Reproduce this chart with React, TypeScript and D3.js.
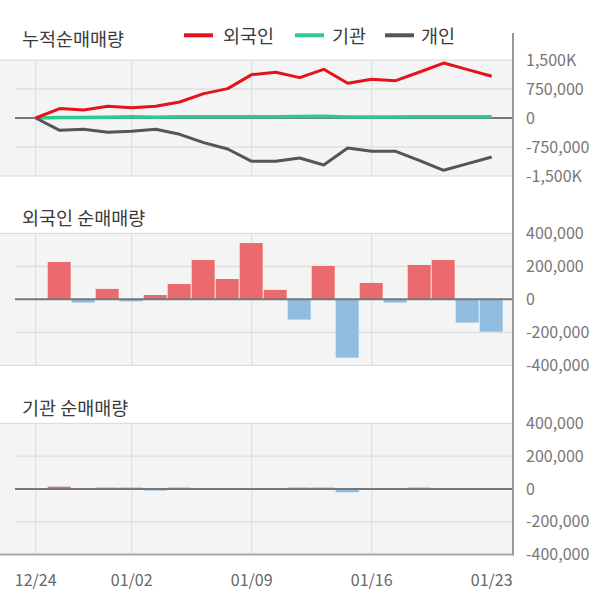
import React from "react";
import * as d3 from "d3";

const dates = ["12/24","12/26","12/27","12/30","01/02","01/03","01/06","01/07","01/08","01/09","01/10","01/13","01/14","01/15","01/16","01/17","01/20","01/21","01/22","01/23"];
const gridDates = ["12/24","01/02","01/09","01/16"];
const labelDates = ["12/24","01/02","01/09","01/16","01/23"];

const foreignCum = [0,243000,207000,302000,268000,302000,414000,631000,760000,1122000,1181000,1044000,1259000,897000,1000000,966000,1190000,1421000,1250000,1078000];
const instCum = [0,14000,14000,22000,30000,22000,30000,30000,30000,30000,30000,38000,46000,26000,26000,26000,34000,34000,34000,34000];
const indivCum = [0,-318000,-292000,-370000,-344000,-292000,-422000,-637000,-801000,-1120000,-1120000,-1034000,-1215000,-776000,-861000,-861000,-1100000,-1353000,-1181000,-1008000];

const foreignNet = [0,226000,-20000,63000,-12000,26000,93000,238000,123000,341000,57000,-123000,202000,-354000,99000,-20000,208000,238000,-141000,-196000];
const instNet = [0,14000,0,8000,8000,-10000,8000,0,0,0,0,8000,8000,-20000,0,0,8000,0,0,0];

const topTicks = [1500000,750000,0,-750000,-1500000];
const topTickLabels = ["1,500K","750,000","0","-750,000","-1,500K"];
const barTicks = [400000,200000,0,-200000,-400000];
const barTickLabels = ["400,000","200,000","0","-200,000","-400,000"];

const FONT = "'Noto Sans CJK KR', 'Noto Sans', sans-serif";
const AXIS_X = 513;
const TITLE_SIZE = 18.5;
const TICK_SIZE = 16;

const x = d3.scalePoint<string>().domain(dates).range([35.7, 491.7]);

function Panel({ y, top, bottom, ticks, labels, children }: any) {
  return (
    <g>
      <rect x={0} y={top} width={AXIS_X} height={bottom - top} fill="#f4f4f4" />
      {gridDates.map((d) => (
        <line key={d} x1={x(d)} x2={x(d)} y1={top} y2={bottom} stroke="#dcdcdc" strokeWidth={1} />
      ))}
      {ticks.map((t: number, i: number) => (
        t !== 0 ? (
          <line key={t} x1={i === 0 || i === ticks.length - 1 ? 0 : 15} x2={AXIS_X} y1={y(t)} y2={y(t)} stroke="#d8d8d8" strokeWidth={1} />
        ) : null
      ))}
      {ticks.map((t: number, i: number) => (
        <text key={"l" + t} x={526} y={y(t)} dy="0.35em" fontSize={TICK_SIZE} fill="#777" fontFamily={FONT}>{labels[i]}</text>
      ))}
      {children}
    </g>
  );
}

export default function App() {
  const yTop = d3.scaleLinear().domain([-1500000, 1500000]).range([176, 60]);
  const yMid = d3.scaleLinear().domain([-400000, 400000]).range([365.3, 233.3]);
  const yBot = d3.scaleLinear().domain([-400000, 400000]).range([554.6, 423.3]);

  const line = (vals: number[]) =>
    d3.line<number>().x((_, i) => x(dates[i]) as number).y((v) => yTop(v))(vals) as string;

  const bars = (vals: number[], y: d3.ScaleLinear<number, number>) =>
    vals.map((v, i) => {
      if (i === 0 || v === 0) return null;
      const cx = x(dates[i]) as number;
      const y0 = y(0), y1 = y(v);
      return (
        <rect key={i} x={cx - 12} width={23} y={Math.min(y0, y1)} height={Math.abs(y1 - y0)}
          fill={v > 0 ? "#eb6a6d" : "#90bde0"} />
      );
    });

  const legend = [
    { label: "외국인", color: "#e3141b", x1: 184, tx: 223 },
    { label: "기관", color: "#2ec98c", x1: 295, tx: 332 },
    { label: "개인", color: "#555555", x1: 385, tx: 421 },
  ];

  return (
    <svg width={600} height={604} style={{ position: "absolute", left: 0, top: 0 }} fontFamily={FONT}>
      <rect width={600} height={604} fill="#fff" />
      {/* Top panel */}
      <text x={22} y={40} dy="0.35em" fontSize={TITLE_SIZE} fill="#3a3a3a">누적순매매량</text>
      {legend.map((l) => (
        <g key={l.label}>
          <line x1={l.x1} x2={l.x1 + 29} y1={35.3} y2={35.3} stroke={l.color} strokeWidth={4} />
          <text x={l.tx} y={37} dy="0.35em" fontSize={TITLE_SIZE} fill="#3a3a3a">{l.label}</text>
        </g>
      ))}
      <Panel y={yTop} top={60} bottom={176} ticks={topTicks} labels={topTickLabels}>
        <line x1={15} x2={AXIS_X} y1={yTop(0)} y2={yTop(0)} stroke="#777" strokeWidth={2} />
        <path d={line(instCum)} fill="none" stroke="#2ec98c" strokeWidth={3.5} />
        <path d={line(indivCum)} fill="none" stroke="#555555" strokeWidth={3} strokeLinejoin="round" />
        <path d={line(foreignCum)} fill="none" stroke="#e3141b" strokeWidth={3} strokeLinejoin="round" />
      </Panel>

      {/* Middle panel */}
      <text x={22} y={219} dy="0.35em" fontSize={TITLE_SIZE} fill="#3a3a3a">외국인 순매매량</text>
      <Panel y={yMid} top={233.3} bottom={365.3} ticks={barTicks} labels={barTickLabels}>
        {bars(foreignNet, yMid)}
        <line x1={15} x2={AXIS_X} y1={yMid(0)} y2={yMid(0)} stroke="#777" strokeWidth={2} />
      </Panel>

      {/* Bottom panel */}
      <text x={22} y={409} dy="0.35em" fontSize={TITLE_SIZE} fill="#3a3a3a">기관 순매매량</text>
      <Panel y={yBot} top={423.3} bottom={554.6} ticks={barTicks} labels={barTickLabels}>
        {bars(instNet, yBot)}
        <line x1={15} x2={AXIS_X} y1={yBot(0)} y2={yBot(0)} stroke="#777" strokeWidth={2} />
      </Panel>
      <line x1={0} x2={AXIS_X} y1={554.6} y2={554.6} stroke="#aaa" strokeWidth={2} />

      {/* Right axis */}
      <line x1={AXIS_X} x2={AXIS_X} y1={33} y2={555.5} stroke="#999" strokeWidth={2} />

      {/* X labels */}
      {labelDates.map((d) => (
        <text key={d} x={x(d)} y={580} dy="0.35em" fontSize={TICK_SIZE} fill="#666" textAnchor="middle">{d}</text>
      ))}
    </svg>
  );
}
